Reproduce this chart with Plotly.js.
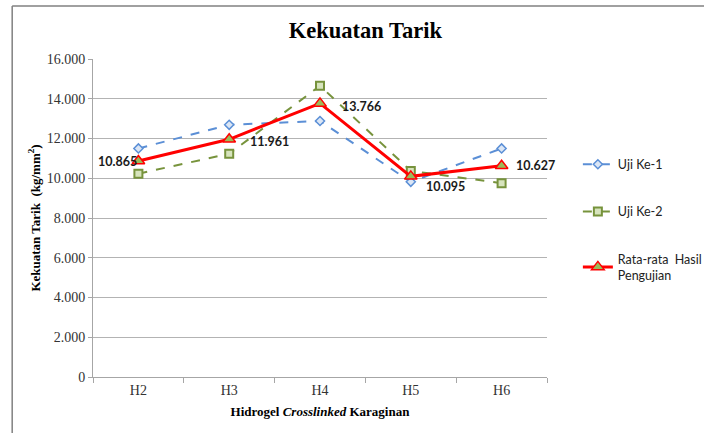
<!DOCTYPE html>
<html><head><meta charset="utf-8">
<script src="https://cdn.plot.ly/plotly-3.0.1.min.js"></script>
<style>html,body{margin:0;padding:0;background:#fff;}</style>
</head><body>
<div id="chart" style="width:704px;height:433px;"></div>
<script>
var categories = ['H2','H3','H4','H5','H6'];
var uji1 = [11500, 12690, 12880, 9820, 11500];
var uji2 = [10230, 11232, 14652, 10370, 9754];
var rataRata = [10865, 11961, 13766, 10095, 10627];
var seriesNames = ['Uji Ke-1','Uji Ke-2','Rata-rata  Hasil<br>Pengujian'];
var yTicks = [0,2000,4000,6000,8000,10000,12000,14000,16000];
var labelXShift = [1, 19, 20, 13, 12];
var labelYShift = [0, -2, -3, -10, 0];
var labelAnchor = ['right','left','left','left','left'];

var serif = 'Liberation Serif, Times New Roman, serif';
var sans = 'Lato, Open Sans, sans-serif';

var traces = [
  {x: categories, y: uji1, name: seriesNames[0], type:'scatter', mode:'lines+markers',
   legendgroup:'a',
   line:{color:'#5b8fd6', width:2, dash:'dash'},
   marker:{symbol:'diamond', size:7, color:'#dbe6f5', line:{color:'#5b8fd6', width:1.5}}},
  {x: categories, y: uji2, name: seriesNames[1], type:'scatter', mode:'lines+markers',
   legendgroup:'b',
   line:{color:'#77933c', width:2, dash:'dash'},
   marker:{symbol:'square', size:8, color:'#d7e4bd', line:{color:'#77933c', width:2}}},
  {x: categories, y: rataRata, name: seriesNames[2], type:'scatter', mode:'lines+markers',
   legendgroup:'c',
   line:{color:'#ff0000', width:3},
   marker:{symbol:'triangle-up', size:11, color:'#9bbb59', line:{color:'#ff0000', width:1.5}}}
];

var annotations = rataRata.map(function(v, i){
  var s = String(v);
  var txt = s.slice(0, s.length-3) + '.' + s.slice(s.length-3);
  return {x: categories[i], y: v, xref:'x', yref:'y', text:'<b>'+txt+'</b>', showarrow:false,
          xanchor: labelAnchor[i], yanchor:'middle', xshift: labelXShift[i], yshift: labelYShift[i],
          font:{family:sans, size:12.5, color:'#1a1a1a'}};
});

var layout = {
  width:704, height:433,
  margin:{l:93, r:157, t:59, b:56, autoexpand:false},
  paper_bgcolor:'#ffffff', plot_bgcolor:'#ffffff',
  separators:',.',
  showlegend:true,
  title:{text:'<b>Kekuatan Tarik</b>', font:{family:serif, size:22.5, color:'#000'},
         x:0.519, xanchor:'center', y:0.93, yanchor:'middle'},
  xaxis:{type:'category', showgrid:false, showline:true, linecolor:'#a6a6a6', linewidth:1,
         ticks:'outside', tickson:'boundaries', ticklen:5, tickcolor:'#a6a6a6',
         tickfont:{family:serif, size:14, color:'#333'},
         title:{text:'<b>Hidrogel <i>Crosslinked</i> Karaginan</b>', font:{family:serif, size:13, color:'#000'}, standoff:10},
         range:[-0.5,4.5]},
  yaxis:{range:[0,16000], tickvals:yTicks, tickformat:',', showgrid:true, gridcolor:'#b3b3b3', gridwidth:1,
         showline:true, linecolor:'#a6a6a6', ticks:'outside', ticklen:4, tickcolor:'#a6a6a6',
         zeroline:false,
         tickfont:{family:serif, size:14, color:'#333'},
         title:{text:'<b>Kekuatan Tarik  (kg/mm<sup>2</sup>)</b>', font:{family:serif, size:13, color:'#000'}, standoff:3}},
  legend:{x:1.068, y:0.715, xanchor:'left', yanchor:'top', tracegroupgap:28,
          font:{family:sans, size:12.5, color:'#222'}, bgcolor:'rgba(0,0,0,0)', itemwidth:30},
  annotations: annotations,
  shapes:[
    {type:'line', xref:'paper', yref:'paper', x0:-0.178, x1:-0.178, y0:1.167, y1:-0.3, line:{color:'#808080', width:1.5}},
    {type:'line', xref:'paper', yref:'paper', x0:-0.178, x1:1.5, y0:1.167, y1:1.167, line:{color:'#808080', width:1.5}}
  ]
};

Plotly.newPlot('chart', traces, layout, {staticPlot:true, displayModeBar:false});
</script>
</body></html>
